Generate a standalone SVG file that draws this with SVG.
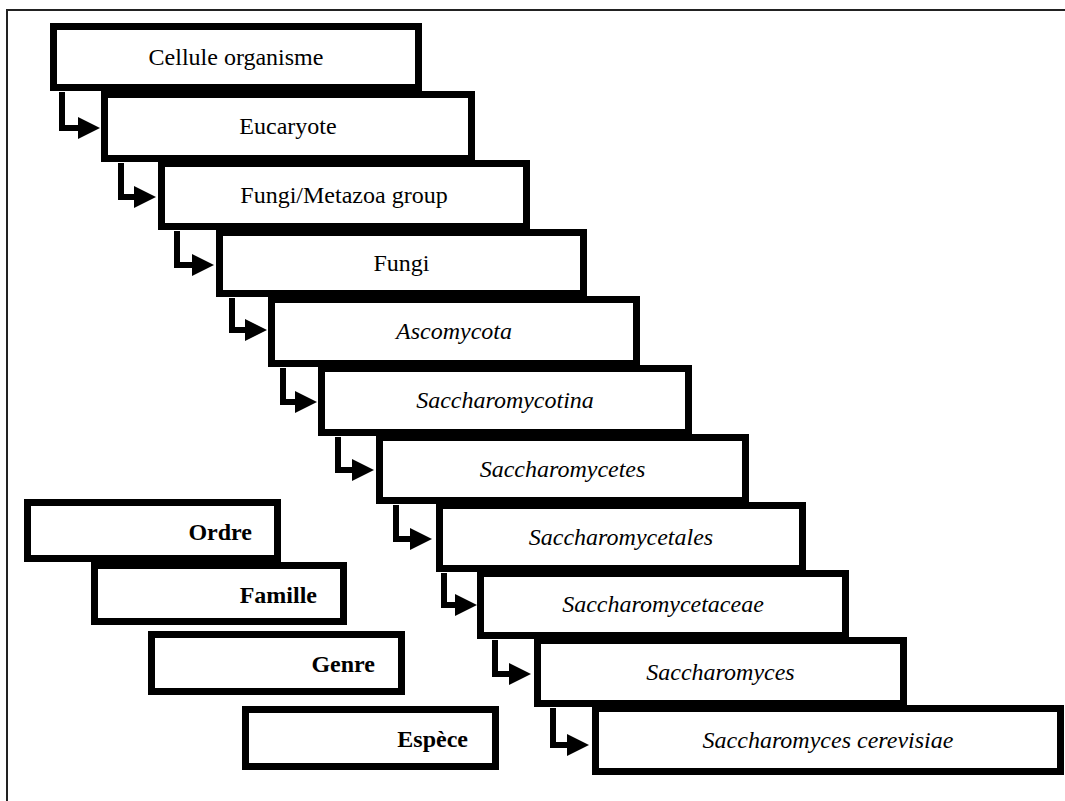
<svg xmlns="http://www.w3.org/2000/svg" width="1065" height="801" viewBox="0 0 1065 801">
<style>
.box{fill:#fff;stroke:#000;stroke-width:7}
.t{font-family:"Liberation Serif","Times New Roman",serif;font-size:24px;fill:#000;text-anchor:middle}
.i{font-style:italic}
.b{font-family:"Liberation Serif","Times New Roman",serif;font-size:24px;font-weight:bold;fill:#000;text-anchor:end}
.c{fill:none;stroke:#000;stroke-width:6;stroke-linejoin:miter;stroke-linecap:butt}
</style>
<defs>
<marker id="ah" markerUnits="userSpaceOnUse" viewBox="0 0 22 22" refX="0" refY="11" markerWidth="22" markerHeight="22" orient="auto">
<path d="M0,0 L22,11 L0,22 Z" fill="#000"/>
</marker>
</defs>
<rect width="1065" height="801" fill="#fff"/>
<path d="M7,801 V10 H1065" fill="none" stroke="#222" stroke-width="2"/>

<g id="n1"><rect class="box" x="53.5" y="26.5" width="365" height="61"/><text class="t" x="236" y="65">Cellule organisme</text></g>
<g id="n2"><rect class="box" x="104.5" y="94.5" width="367" height="64"/><text class="t" x="288" y="134">Eucaryote</text></g>
<g id="n3"><rect class="box" x="161.5" y="163.5" width="365" height="63"/><text class="t" x="344" y="203">Fungi/Metazoa group</text></g>
<g id="n4"><rect class="box" x="219.5" y="232.5" width="364" height="61"/><text class="t" x="401.5" y="271">Fungi</text></g>
<g id="n5"><rect class="box" x="271.5" y="299.5" width="365" height="64"/><text class="t i" x="454" y="339">Ascomycota</text></g>
<g id="n6"><rect class="box" x="321.5" y="368.5" width="367" height="64"/><text class="t i" x="505" y="408">Saccharomycotina</text></g>
<g id="n7"><rect class="box" x="379.5" y="437.5" width="366" height="63"/><text class="t i" x="562.5" y="477">Saccharomycetes</text></g>
<g id="n8"><rect class="box" x="439.5" y="505.5" width="363" height="63"/><text class="t i" x="621" y="545">Saccharomycetales</text></g>
<g id="n9"><rect class="box" x="480.5" y="573.5" width="365" height="62"/><text class="t i" x="663" y="612">Saccharomycetaceae</text></g>
<g id="n10"><rect class="box" x="537.5" y="640.5" width="366" height="63"/><text class="t i" x="720.5" y="680">Saccharomyces</text></g>
<g id="n11"><rect class="box" x="595.5" y="708.5" width="465" height="63"/><text class="t i" x="828" y="748">Saccharomyces cerevisiae</text></g>

<g id="ordre"><rect class="box" x="27.5" y="502.5" width="250" height="56"/><text class="b" x="252" y="540">Ordre</text></g>
<g id="famille"><rect class="box" x="94.5" y="565.5" width="249" height="56"/><text class="b" x="317" y="603">Famille</text></g>
<g id="genre"><rect class="box" x="151.5" y="634.5" width="250" height="57"/><text class="b" x="375" y="672">Genre</text></g>
<g id="espece"><rect class="box" x="245.5" y="709.5" width="250" height="57"/><text class="b" x="468" y="747">Espèce</text></g>

<g id="connectors">
<path class="c" marker-end="url(#ah)" d="M62,92 V128 H78"/>
<path class="c" marker-end="url(#ah)" d="M121,163 V197 H134"/>
<path class="c" marker-end="url(#ah)" d="M177,231 V265 H192"/>
<path class="c" marker-end="url(#ah)" d="M232,298 V330 H245"/>
<path class="c" marker-end="url(#ah)" d="M283,368 V402 H295"/>
<path class="c" marker-end="url(#ah)" d="M338,437 V470 H352"/>
<path class="c" marker-end="url(#ah)" d="M396,505 V539 H410"/>
<path class="c" marker-end="url(#ah)" d="M444,573 V605 H455"/>
<path class="c" marker-end="url(#ah)" d="M495,640 V674 H509"/>
<path class="c" marker-end="url(#ah)" d="M553,708 V745 H567"/>
</g>
</svg>
